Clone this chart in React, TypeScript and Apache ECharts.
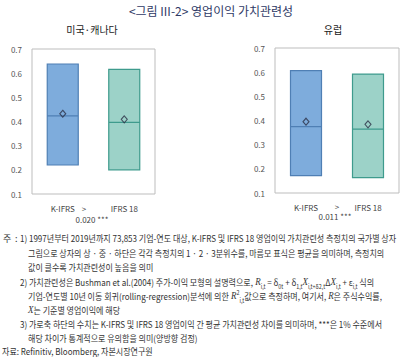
import React, { useEffect, useRef } from "react";
import * as echarts from "echarts";

const categories = ["K-IFRS", "IFRS 18"];
const panelTitles = ["미국·캐나다", "유럽"];
// [Q1, median, Q3]
const usQuartiles = [
  [0.22, 0.423, 0.638],
  [0.2, 0.396, 0.616],
];
const usMeans = [0.432, 0.409];
const euQuartiles = [
  [0.172, 0.375, 0.606],
  [0.164, 0.364, 0.592],
];
const euMeans = [0.395, 0.384];
const diffLabels = ["0.020 ***", "0.011 ***"];
const yMin = 0.1;
const yMax = 0.7;
const yStep = 0.1;

const mainTitle = "<그림 III-2> 영업이익 가치관련성";
const noteLines = [
  "1) 1997년부터 2019년까지 73,853 기업-연도 대상, K-IFRS 및 IFRS 18 영업이익 가치관련성 측정치의 국가별 상자",
  "그림으로 상자의 상 · 중 · 하단은 각각 측정치의 1 · 2 · 3분위수를, 마름모 표식은 평균을 의미하며, 측정치의",
  "값이 클수록 가치관련성이 높음을 의미",
  "2) 가치관련성은 Bushman et al.(2004) 주가-이익 모형의 설명력으로, {i|R}{sub|i,t} = δ{sub|0t} + δ{sub|1,t}{i|X}{sub|i,t+δ2,t}Δ{i|X}{sub|i,t} + ε{sub|i,t} 식의",
  "기업-연도별 10년 이동 회귀(rolling-regression)분석에 의한 {i|R}{sup|2}{sub|i,t}값으로 측정하며, 여기서, {i|R}은 주식수익률,",
  "{i|X}는 기준별 영업이익에 해당",
  "3) 가로축 하단의 수치는 K-IFRS 및 IFRS 18 영업이익 간 평균 가치관련성 차이를 의미하며, ***은 1% 수준에서",
  "해당 차이가 통계적으로 유의함을 의미(양방향 검정)",
];
const noteX = [20, 28, 28, 20, 28, 28, 20, 28];
const noteY = [238, 253, 267, 282, 296, 310, 324, 338];
const sourceText = "자료: Refinitiv, Bloomberg, 자본시장연구원";

const FONT = '"Noto Sans CJK KR", "Noto Sans", sans-serif';
const boxFill = ["#7eacdc", "#9cd2c8"];
const boxBorder = ["#4f7fb4", "#3e9b8d"];

function measure(text: string, size: number) {
  const c = document.createElement("canvas").getContext("2d");
  if (!c) return text.length * size * 0.6;
  c.font = `${size}px ${FONT}`;
  return c.measureText(text).width;
}

export default function App() {
  const ref = useRef<HTMLDivElement>(null);
  useEffect(() => {
    if (!ref.current) return;
    const chart = echarts.init(ref.current, undefined, { renderer: "svg" });
    const noteSize = 9;
    const sx = 377 / measure(noteLines[0], noteSize);

    const grids = [
      { left: 32, top: 49, width: 123, height: 145 },
      { left: 275, top: 48, width: 124, height: 145 },
    ];
    const quartiles = [usQuartiles, euQuartiles];
    const means = [usMeans, euMeans];

    const richStyles = {
      i: { fontStyle: "italic", fontFamily: '"Liberation Serif", serif', fontSize: 10, fill: "#333", verticalAlign: "middle", lineHeight: 14 },
      sub: { fontSize: 6, fill: "#333", fontFamily: FONT, verticalAlign: "bottom", lineHeight: 9 },
      sup: { fontSize: 6, fill: "#333", fontFamily: FONT, verticalAlign: "top", lineHeight: 9 },
    };

    const graphics: any[] = [
      {
        type: "text",
        x: 211,
        y: 10,
        style: { text: mainTitle, fontSize: 12, fontFamily: FONT, fill: "#2f3a66", align: "center", verticalAlign: "middle" },
      },
      {
        type: "text",
        x: 92,
        y: 29,
        style: { text: panelTitles[0], fontSize: 10, fontFamily: FONT, fill: "#222", align: "center", verticalAlign: "middle" },
      },
      {
        type: "text",
        x: 333,
        y: 29,
        style: { text: panelTitles[1], fontSize: 10, fontFamily: FONT, fill: "#222", align: "center", verticalAlign: "middle" },
      },
      { type: "text", x: 84, y: 208, style: { text: ">", fontSize: 8, fontFamily: FONT, fill: "#444", align: "center", verticalAlign: "middle" } },
      { type: "text", x: 337, y: 206, style: { text: ">", fontSize: 8, fontFamily: FONT, fill: "#444", align: "center", verticalAlign: "middle" } },
      { type: "text", x: 92, y: 219, style: { text: diffLabels[0], fontSize: 8, fontFamily: FONT, fill: "#444", align: "center", verticalAlign: "middle" } },
      { type: "text", x: 335, y: 216, style: { text: diffLabels[1], fontSize: 8, fontFamily: FONT, fill: "#444", align: "center", verticalAlign: "middle" } },
      { type: "text", x: 3, y: 238, style: { text: "주", fontSize: noteSize, fontFamily: FONT, fill: "#333", align: "left", verticalAlign: "middle" } },
      { type: "text", x: 15, y: 238, style: { text: ":", fontSize: noteSize, fontFamily: FONT, fill: "#333", align: "left", verticalAlign: "middle" } },
    ];
    noteLines.forEach((t, k) => {
      graphics.push({
        type: "text",
        x: noteX[k],
        y: noteY[k],
        scaleX: sx,
        style: {
          text: t,
          fontSize: noteSize,
          fontFamily: FONT,
          fill: "#333",
          align: "left",
          verticalAlign: "middle",
          lineHeight: 14,
          rich: richStyles,
        },
      });
    });
    graphics.push({
      type: "text",
      x: 2,
      y: 351,
      scaleX: sx,
      style: { text: sourceText, fontSize: noteSize, fontFamily: FONT, fill: "#333", align: "left", verticalAlign: "middle" },
    });

    const series: any[] = [];
    [0, 1].forEach((g) => {
      series.push({
        type: "boxplot",
        xAxisIndex: g,
        yAxisIndex: g,
        boxWidth: [31, 31],
        silent: true,
        data: quartiles[g].map((q, k) => ({
          value: [q[0], q[0], q[1], q[2], q[2]],
          itemStyle: { color: boxFill[k], borderColor: boxBorder[k], borderWidth: 1.2 },
        })),
      });
      series.push({
        type: "scatter",
        xAxisIndex: g,
        yAxisIndex: g,
        symbol: "diamond",
        symbolSize: [6, 7],
        silent: true,
        itemStyle: { color: "rgba(0,0,0,0)", borderColor: "#2b2f45", borderWidth: 1.1 },
        data: means[g].map((m, k) => [k, m]),
      });
    });

    chart.setOption({
      animation: false,
      grid: grids.map((gr) => ({ ...gr, show: true, borderColor: "#bdbdbd", borderWidth: 1, backgroundColor: "transparent" })),
      xAxis: [0, 1].map((g) => ({
        type: "category",
        gridIndex: g,
        data: categories,
        axisLine: { show: false },
        axisTick: { show: false },
        axisLabel: { margin: 10, fontSize: 8, color: "#444", fontFamily: FONT },
      })),
      yAxis: [0, 1].map((g) => ({
        type: "value",
        gridIndex: g,
        min: yMin,
        max: yMax,
        interval: yStep,
        axisLine: { show: false },
        axisTick: { show: false },
        splitLine: { show: false },
        axisLabel: { margin: 10, fontSize: 8, color: "#555", fontFamily: FONT, formatter: (v: number) => v.toFixed(1) },
      })),
      series,
      graphic: graphics,
    });
    return () => chart.dispose();
  }, []);
  return <div ref={ref} style={{ position: "fixed", left: 0, top: 0, width: 413, height: 357, background: "#fff" }} />;
}
